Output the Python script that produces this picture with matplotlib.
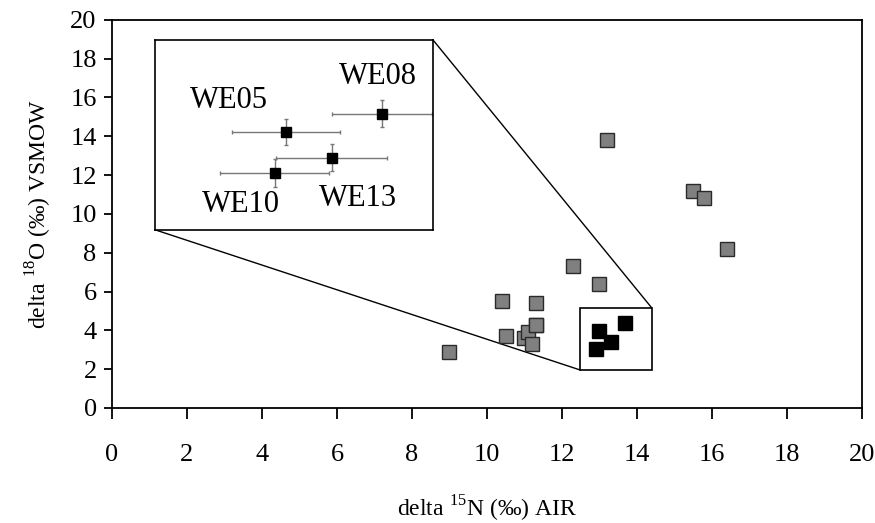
import matplotlib
matplotlib.use('Agg')
import matplotlib.pyplot as plt
from matplotlib.patches import Rectangle

plt.rcParams['font.family'] = ['Liberation Serif', 'DejaVu Serif']
plt.rcParams['mathtext.fontset'] = 'custom'
plt.rcParams['mathtext.rm'] = 'Liberation Serif'

# all samples (grey)
grey_x = [9.0, 10.4, 10.5, 11.0, 11.1, 11.2, 11.3, 11.3, 11.3, 12.3, 13.0, 13.2, 15.5, 15.8, 16.4]
grey_y = [2.9, 5.5, 3.7, 3.6, 3.9, 3.3, 4.3, 5.4, 4.3, 7.3, 6.4, 13.8, 11.2, 10.8, 8.2]

# highlighted samples (black)
names = ['WE05', 'WE08', 'WE10', 'WE13']
blk_x = [12.99, 13.68, 12.91, 13.32]
blk_y = [3.97, 4.38, 3.06, 3.39]
err_x = [0.39, 0.36, 0.39, 0.40]
err_y = [0.29, 0.30, 0.31, 0.30]

# zoom box (main data coords) and inset placement
box = (12.48, 1.96, 14.39, 5.17)
inset = (1.15, 9.18, 8.56, 18.97)
inset_xlim = (12.05, 14.05)
inset_ylim = (1.79, 6.02)

fig = plt.figure(figsize=(8.75, 5.23), dpi=100)
ax = fig.add_axes([0.128, 0.220, 0.857, 0.742])

ax.plot(grey_x, grey_y, 's', ms=10.5, mfc='#808080', mec='#2a2a2a', mew=1.0, ls='none', zorder=3)
ax.plot(blk_x, blk_y, 's', ms=10.5, mfc='black', mec='black', ls='none', zorder=4)

ax.add_patch(Rectangle((box[0], box[1]), box[2] - box[0], box[3] - box[1],
                       fill=False, ec='black', lw=1.2, zorder=2))
ax.plot([inset[2], box[2]], [inset[3], box[3]], color='black', lw=1.0, zorder=2)
ax.plot([inset[0], box[0]], [inset[1], box[1]], color='black', lw=1.0, zorder=2)

ax.set_xlim(0, 20)
ax.set_ylim(0, 20)
ax.set_xticks(range(0, 21, 2))
ax.set_yticks(range(0, 21, 2))
ax.tick_params(axis='x', direction='out', length=8, width=1.3, pad=18, labelsize=19)
ax.tick_params(axis='y', direction='out', length=6, width=1.3, pad=5, labelsize=19)
for s in ax.spines.values():
    s.set_linewidth(1.3)

ax.set_xlabel(r'delta $^{\mathrm{15}}$N (‰) AIR', fontsize=17, labelpad=20)
ax.set_ylabel(r'delta $^{\mathrm{18}}$O (‰) VSMOW', fontsize=17, labelpad=12)

# inset
axi = ax.inset_axes([inset[0], inset[1], inset[2] - inset[0], inset[3] - inset[1]],
                    transform=ax.transData)
axi.errorbar(blk_x, blk_y, xerr=err_x, yerr=err_y, fmt='s', ms=7, mfc='black', mec='black',
             ecolor='#777777', elinewidth=1.0, capsize=1.5)
axi.set_xlim(*inset_xlim)
axi.set_ylim(*inset_ylim)
axi.set_xticks([])
axi.set_yticks([])
for s in axi.spines.values():
    s.set_linewidth(1.2)

lab_off = {'WE05': (-0.41, 0.69), 'WE08': (-0.03, 0.82), 'WE10': (-0.24, -0.71), 'WE13': (0.19, -0.91)}
for n, x, y in zip(names, blk_x, blk_y):
    dx, dy = lab_off[n]
    axi.text(x + dx, y + dy, n, fontsize=22, ha='center', va='center')

fig.savefig('out.png', dpi=100)
